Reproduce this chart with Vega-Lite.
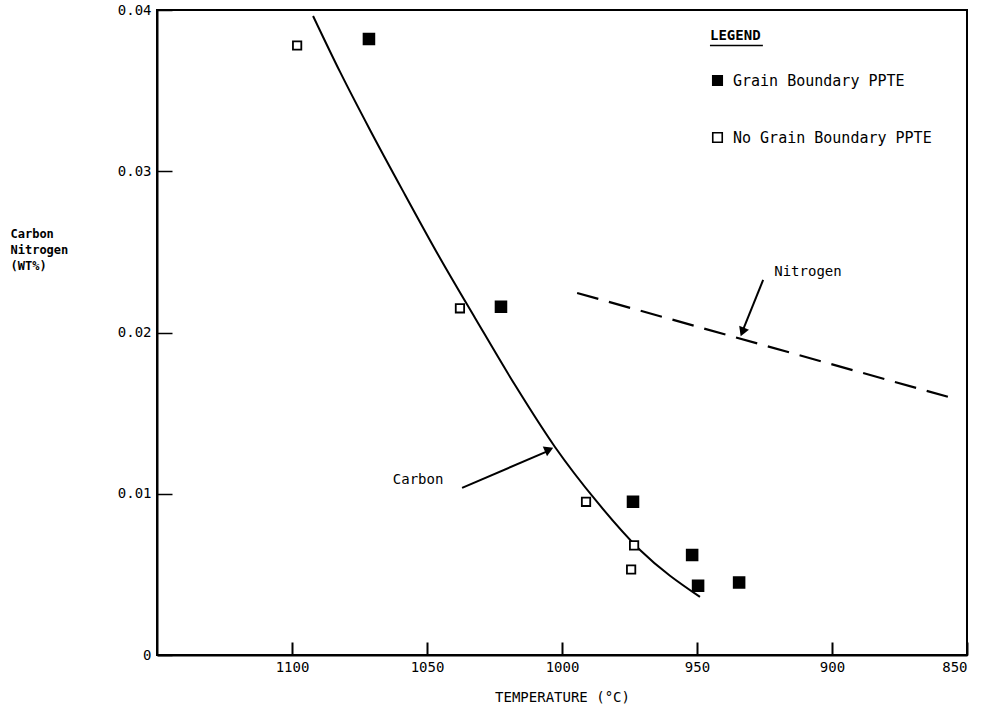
{
  "$schema": "https://vega.github.io/schema/vega-lite/v6.json",
  "width": 810,
  "height": 645,
  "autosize": {"type": "none"},
  "padding": {"left": 157, "top": 10, "right": 27, "bottom": 57},
  "background": "white",
  "config": {
    "view": {"stroke": "black", "strokeWidth": 2},
    "font": "DejaVu Sans Mono",
    "legend": {
      "title": "LEGEND",
      "orient": "none",
      "legendX": 553,
      "legendY": 19,
      "titleFont": "DejaVu Sans Mono",
      "titleFontSize": 14,
      "titleFontWeight": "bold",
      "titleColor": "black",
      "titlePadding": 30,
      "labelFont": "DejaVu Sans Mono",
      "labelFontSize": 15,
      "labelColor": "black",
      "labelOffset": 8,
      "labelLimit": 400,
      "symbolType": "square",
      "symbolSize": 90,
      "symbolStrokeColor": "black",
      "symbolStrokeWidth": 1.6,
      "rowPadding": 40
    }
  },
  "datasets": {
    "points": [
      {"temp": 1098.1, "wt": 0.0378, "type": "No Grain Boundary PPTE"},
      {"temp": 1071.5, "wt": 0.0382, "type": "Grain Boundary PPTE"},
      {"temp": 1037.8, "wt": 0.0215, "type": "No Grain Boundary PPTE"},
      {"temp": 1022.6, "wt": 0.0216, "type": "Grain Boundary PPTE"},
      {"temp": 991.1, "wt": 0.0095, "type": "No Grain Boundary PPTE"},
      {"temp": 973.7, "wt": 0.0095, "type": "Grain Boundary PPTE"},
      {"temp": 973.3, "wt": 0.0068, "type": "No Grain Boundary PPTE"},
      {"temp": 974.4, "wt": 0.0053, "type": "No Grain Boundary PPTE"},
      {"temp": 951.8, "wt": 0.0062, "type": "Grain Boundary PPTE"},
      {"temp": 949.6, "wt": 0.0043, "type": "Grain Boundary PPTE"},
      {"temp": 934.4, "wt": 0.0045, "type": "Grain Boundary PPTE"}
    ],
    "carbon": [
      {"temp": 1092.2, "wt": 0.03963},
      {"temp": 1082.2, "wt": 0.03616},
      {"temp": 1071.1, "wt": 0.03256},
      {"temp": 1058.1, "wt": 0.02853},
      {"temp": 1045.2, "wt": 0.02462},
      {"temp": 1032.2, "wt": 0.0209},
      {"temp": 1017.4, "wt": 0.01674},
      {"temp": 1002.6, "wt": 0.0129},
      {"temp": 987.0, "wt": 0.00949},
      {"temp": 971.1, "wt": 0.00651},
      {"temp": 948.9, "wt": 0.0036}
    ],
    "nitrogen": [
      {"temp": 994.4, "wt": 0.02245},
      {"temp": 855.5, "wt": 0.01594}
    ],
    "carbonArrow": [
      {"temp": 1037.0, "wt": 0.01036, "temp2": 1004.4, "wt2": 0.01271}
    ],
    "carbonHead": [
      {"temp": 1004.8, "wt": 0.01274}
    ],
    "nitrogenArrow": [
      {"temp": 925.5, "wt": 0.02326, "temp2": 933.3, "wt2": 0.02003}
    ],
    "nitrogenHead": [
      {"temp": 933.2, "wt": 0.02003}
    ],
    "legendUnderline": [
      {"temp": 945.2, "wt": 0.0378, "temp2": 925.6, "wt2": 0.0378}
    ],
    "labels": [
      {"temp": 1053.3, "wt": 0.01085, "text": "Carbon"},
      {"temp": 908.9, "wt": 0.02375, "text": "Nitrogen"}
    ]
  },
  "encoding": {
    "x": {
      "field": "temp",
      "type": "quantitative",
      "scale": {"domain": [850, 1150], "reverse": true, "nice": false, "zero": false},
      "axis": {
        "title": "TEMPERATURE (°C)",
        "values": [1100, 1050, 1000, 950, 900, 850],
        "format": "d",
        "grid": false,
        "zindex": 1,
        "ticks": true,
        "tickSize": -13,
        "tickColor": "black",
        "tickOpacity": 1,
        "tickWidth": 2,
        "domainColor": "black",
        "domainWidth": 2,
        "labelFont": "DejaVu Sans Mono",
        "labelFontSize": 14,
        "labelColor": "black",
        "labelPadding": 18,
        "titleFont": "DejaVu Sans Mono",
        "titleFontSize": 14,
        "titleFontWeight": "normal",
        "titleColor": "black",
        "titlePadding": 16
      }
    },
    "y": {
      "field": "wt",
      "type": "quantitative",
      "scale": {"domain": [0, 0.04], "nice": false},
      "axis": {
        "title": ["Carbon", "Nitrogen", "(WT%)"],
        "values": [0, 0.01, 0.02, 0.03, 0.04],
        "labelExpr": "datum.value == 0 ? '0' : format(datum.value, '.2f')",
        "grid": false,
        "zindex": 1,
        "ticks": true,
        "tickSize": -15,
        "tickColor": "black",
        "tickWidth": 1.5,
        "domainColor": "black",
        "domainWidth": 2,
        "labelFont": "DejaVu Sans Mono",
        "labelFontSize": 14,
        "labelColor": "black",
        "labelPadding": 21,
        "titleFont": "DejaVu Sans Mono",
        "titleFontSize": 12,
        "titleFontWeight": "bold",
        "titleColor": "black",
        "titleAngle": 0,
        "titleAlign": "left",
        "titleBaseline": "top",
        "titleX": -147,
        "titleY": 218,
        "titleLineHeight": 16
      }
    }
  },
  "layer": [
    {
      "data": {"name": "carbon"},
      "mark": {"type": "line", "color": "black", "strokeWidth": 2, "interpolate": "monotone"},
      "encoding": {}
    },
    {
      "data": {"name": "nitrogen"},
      "mark": {"type": "line", "color": "black", "strokeWidth": 2.2, "strokeDash": [22, 11]},
      "encoding": {}
    },
    {
      "data": {"name": "carbonArrow"},
      "mark": {"type": "rule", "color": "black", "strokeWidth": 2},
      "encoding": {"x2": {"field": "temp2"}, "y2": {"field": "wt2"}}
    },
    {
      "data": {"name": "nitrogenArrow"},
      "mark": {"type": "rule", "color": "black", "strokeWidth": 2},
      "encoding": {"x2": {"field": "temp2"}, "y2": {"field": "wt2"}}
    },
    {
      "data": {"name": "legendUnderline"},
      "mark": {"type": "rule", "color": "black", "strokeWidth": 1.5},
      "encoding": {"x2": {"field": "temp2"}, "y2": {"field": "wt2"}}
    },
    {
      "data": {"name": "carbonHead"},
      "mark": {"type": "point", "shape": "triangle-up", "filled": true, "color": "black", "size": 110, "angle": 66, "opacity": 1},
      "encoding": {}
    },
    {
      "data": {"name": "nitrogenHead"},
      "mark": {"type": "point", "shape": "triangle-up", "filled": true, "color": "black", "size": 110, "angle": 202, "opacity": 1},
      "encoding": {}
    },
    {
      "data": {"name": "labels"},
      "mark": {"type": "text", "font": "DejaVu Sans Mono", "fontSize": 14, "color": "black"},
      "encoding": {"text": {"field": "text"}}
    },
    {
      "data": {"name": "points"},
      "transform": [{"filter": "datum.type == 'Grain Boundary PPTE'"}],
      "mark": {"type": "square", "stroke": "black", "strokeWidth": 1.6, "size": 120, "opacity": 1},
      "encoding": {
        "fill": {
          "field": "type",
          "type": "nominal",
          "scale": {"domain": ["Grain Boundary PPTE", "No Grain Boundary PPTE"], "range": ["black", "white"]},
          "legend": {"title": "LEGEND"}
        }
      }
    },
    {
      "data": {"name": "points"},
      "transform": [{"filter": "datum.type == 'No Grain Boundary PPTE'"}],
      "mark": {"type": "square", "stroke": "black", "strokeWidth": 1.8, "size": 70, "opacity": 1},
      "encoding": {
        "fill": {
          "field": "type",
          "type": "nominal",
          "legend": {"title": "LEGEND"}
        }
      }
    }
  ]
}
